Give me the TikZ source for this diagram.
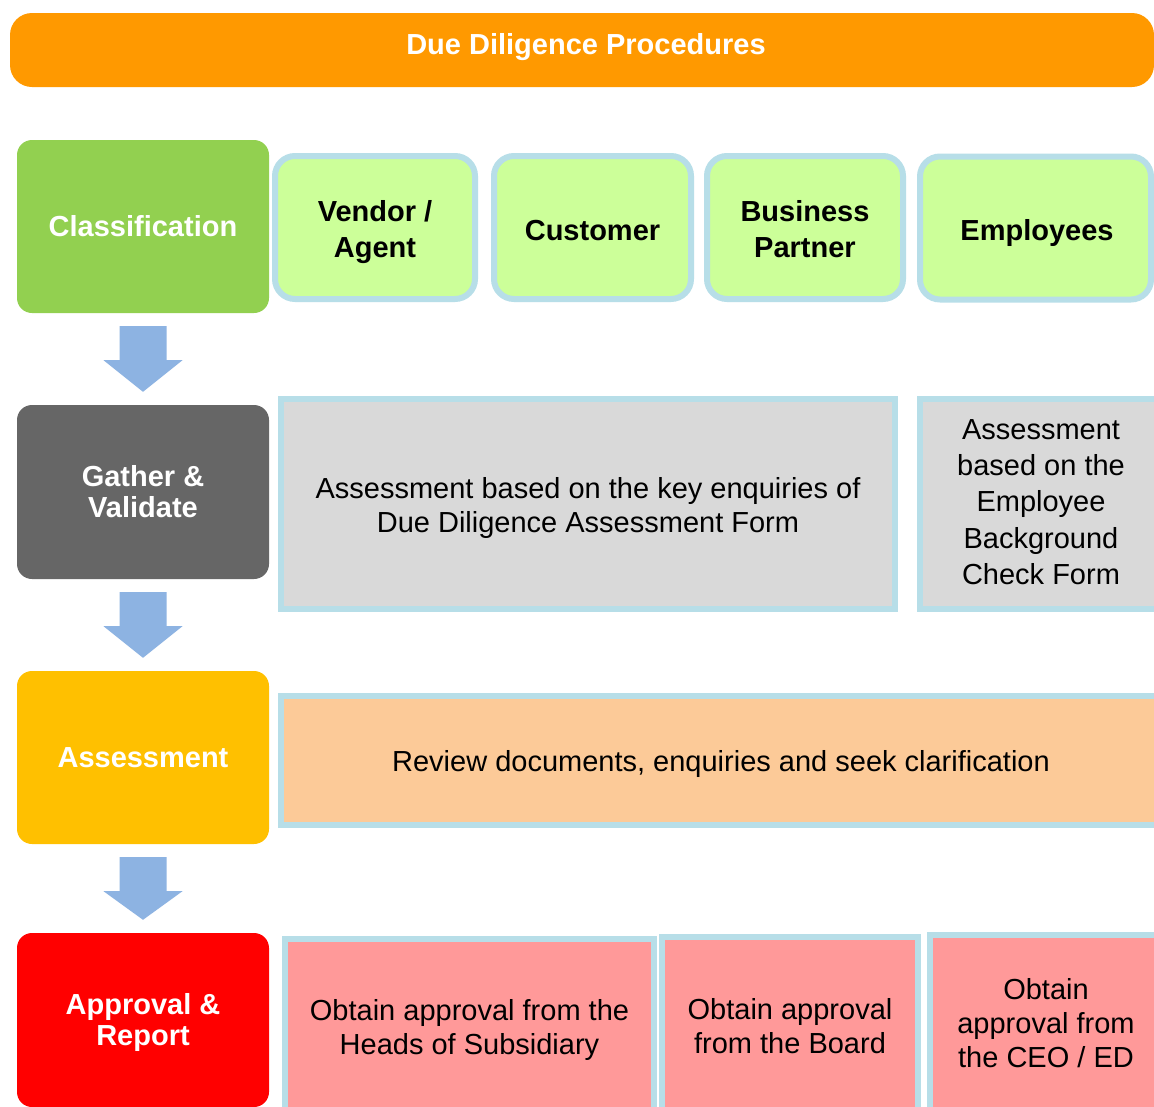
\documentclass[tikz,border=0pt]{standalone}
\usepackage{fontspec}
\setmainfont{Liberation Sans}
\usetikzlibrary{calc}
\definecolor{barc}{HTML}{FF9900}
\definecolor{clsc}{HTML}{92D050}
\definecolor{gatc}{HTML}{666666}
\definecolor{assc}{HTML}{FFC000}
\definecolor{appc}{HTML}{FF0000}
\definecolor{lgreen}{HTML}{CCFF99}
\definecolor{bordc}{HTML}{B7DEE8}
\definecolor{grayc}{HTML}{D9D9D9}
\definecolor{peach}{HTML}{FCCA98}
\definecolor{pinkc}{HTML}{FF9999}
\definecolor{arrowc}{HTML}{8DB3E2}
\begin{document}
\begin{tikzpicture}[x=1pt,y=-1pt,
  stage/.style={rounded corners=15pt, minimum width=252pt, inner sep=0pt, text=white,
    font=\fontsize{29}{31}\selectfont\bfseries, align=center},
  cat/.style={draw=bordc, line width=6pt, fill=lgreen, rounded corners=20pt, inner sep=0pt,
    minimum height=143pt},
  catlbl/.style={inner sep=0pt, align=center, font=\fontsize{29}{36}\selectfont\bfseries},
  info/.style={draw=bordc, line width=6pt, inner sep=0pt},
  infolbl/.style={inner sep=0pt, align=center, font=\fontsize{29}{34}\selectfont},
  blockarrow/.style={fill=arrowc}
]
\useasboundingbox (0,0) rectangle (1154,1106);
\clip (0,0) rectangle (1154,1106);
\fill[white] (0,0) rectangle (1154,1106);

% title bar
\node[fill=barc, rounded corners=22pt, minimum width=1144pt, minimum height=74pt, inner sep=0pt,
  label={[inner sep=0pt, text=white, font=\fontsize{29}{31}\selectfont\bfseries, xshift=4pt, yshift=3pt]center:Due Diligence Procedures}] (bar) at (582,50) {};

% stage boxes
\node[stage, fill=clsc, minimum height=173pt] (cls) at (143,226.5) {Classification};
\node[stage, fill=gatc, minimum height=174pt] (gat) at (143,492) {Gather \&\\Validate};
\node[stage, fill=assc, minimum height=173pt] (ass) at (143,757.5) {Assessment};
\node[stage, fill=appc, minimum height=174pt,
  label={[inner sep=0pt, align=center, text=white, font=\fontsize{29}{31}\selectfont\bfseries, yshift=-2pt]center:{Approval \&\\Report}}] (app) at (143,1020) {};

% classification categories
\node[cat, minimum width=200pt, label={[catlbl, yshift=-5pt]center:{Vendor /\\Agent}}] (ven) at (375,227.5) {};
\node[cat, minimum width=197pt, label={[catlbl, yshift=-3pt]center:{Customer}}] (cus) at (592.5,227.5) {};
\node[cat, minimum width=196pt, label={[catlbl, yshift=-2pt]center:{Business\\Partner}}] (bus) at (805,227.5) {};
\node[cat, minimum width=231pt, label={[catlbl, xshift=1.5pt, yshift=-5pt]center:{Employees}}] (emp) at (1035.5,228) {};

% gather & validate
\node[info, fill=grayc, minimum width=614pt, minimum height=210pt,
  label={[infolbl, yshift=-4pt]center:{Assessment based on the key enquiries of\\Due Diligence Assessment Form}}] (dda) at (588,504) {};
\node[info, fill=grayc, minimum width=242pt, minimum height=210pt,
  label={[infolbl, font=\fontsize{29}{36.2}\selectfont, yshift=2pt]center:{Assessment\\based on the\\Employee\\Background\\Check Form}}] (ebc) at (1041,504) {};

% assessment
\node[info, fill=peach, minimum width=880pt, minimum height=129pt,
  label={[infolbl, yshift=-3pt]center:{Review documents, enquiries and seek clarification}}] (rev) at (721,760.5) {};

% approval
\node[info, fill=pinkc, minimum width=369pt, minimum height=176pt,
  label={[infolbl, yshift=-3pt]center:{Obtain approval from the\\Heads of Subsidiary}}] (hos) at (469.5,1027) {};
\node[info, fill=pinkc, minimum width=256pt, minimum height=180pt,
  label={[infolbl, yshift=1pt]center:{Obtain approval\\from the Board}}] (brd) at (790,1027) {};
\node[info, fill=pinkc, minimum width=232pt, minimum height=176pt,
  label={[infolbl]center:{Obtain\\approval from\\the CEO / ED}}] (ceo) at (1046,1023) {};

% block arrows
\foreach \a/\b in {cls/gat,gat/ass,ass/app}{
  \fill[blockarrow] ($(\a.south)+(-23.5,13)$) -- ($(\a.south)+(23.5,13)$)
    -- ($(\a.south)+(23.5,47)$) -- ($(\a.south)+(39.5,47)$)
    -- ($(\b.north)+(0,-13)$)
    -- ($(\a.south)+(-39.5,47)$) -- ($(\a.south)+(-23.5,47)$) -- cycle;
}
\end{tikzpicture}
\end{document}
